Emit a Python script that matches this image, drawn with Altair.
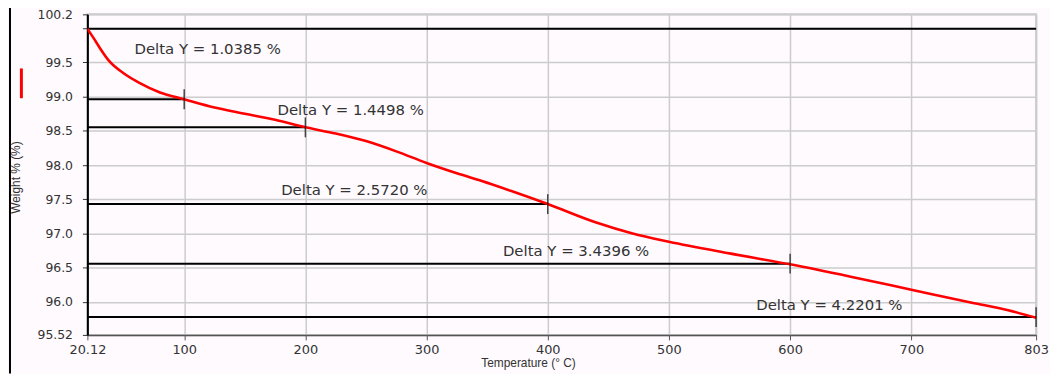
import altair as alt
import pandas as pd

# TGA curve (temperature °C, weight %)
temps = [20.12, 25, 30, 38, 50, 63, 80, 100, 125, 150, 175, 200, 225, 250, 275, 300,
         325, 345, 370, 400, 440, 470, 500, 550, 600, 650, 700, 750, 780, 803]
weights = [99.99, 99.86, 99.72, 99.52, 99.34, 99.20, 99.06, 98.96, 98.84, 98.75, 98.66, 98.55,
           98.46, 98.35, 98.20, 98.03, 97.88, 97.77, 97.62, 97.43, 97.16, 97.00, 96.88, 96.71,
           96.55, 96.37, 96.18, 95.99, 95.88, 95.77]

# Delta-Y markers
start_temp = 20.12
start_weight = 99.99
mark_temps = [100, 200, 400, 600, 803]
mark_weights = [98.96, 98.55, 97.43, 96.56, 95.78]

# Labels
label_texts = ["Delta Y = 1.0385 %", "Delta Y = 1.4498 %", "Delta Y = 2.5720 %",
               "Delta Y = 3.4396 %", "Delta Y = 4.2201 %"]
label_x = [59, 177, 180, 363, 572]
label_y = [99.69, 98.81, 97.63, 96.74, 95.95]

x_ticks = [20.12, 100, 200, 300, 400, 500, 600, 700, 803]
y_ticks = [95.52, 96.0, 96.5, 97.0, 97.5, 98.0, 98.5, 99.0, 99.5, 100.0, 100.2]

curve = pd.DataFrame({"t": temps, "w": weights, "series": ["Weight"] * len(temps)})
rules = pd.DataFrame({"x1": [start_temp] * (len(mark_temps) + 1),
                      "x2": [803] + mark_temps,
                      "y": [start_weight] + mark_weights})
ticks = pd.DataFrame({"t": mark_temps, "w": mark_weights})
labels = pd.DataFrame({"x": label_x, "y": label_y, "text": label_texts})

xs = alt.Scale(domain=[20.12, 803], nice=False, zero=False)
ys = alt.Scale(domain=[95.52, 100.2], nice=False, zero=False)

x_axis = alt.Axis(values=x_ticks, tickCount=30,
                  labelExpr="datum.value == 20.12 ? '20.12' : format(datum.value, 'd')",
                  title="Temperature (° C)", grid=True, gridColor="#cccccc", gridWidth=1.5,
                  domainColor="#555555", domainWidth=1.5, tickColor="#555555", tickSize=5,
                  labelFont="DejaVu Sans", labelFontSize=13, labelColor="#333333",
                  labelOverlap=False, labelFlush=False,
                  titleFont="Liberation Sans", titleFontSize=12, titleFontWeight="normal",
                  titleColor="#333333", titleX=444, titleY=23, titleBaseline="top",
                  labelPadding=4)
y_axis = alt.Axis(values=y_ticks, tickCount=30,
                  labelExpr="datum.value == 100.0 ? '' : (datum.value == 95.52 ? '95.52' : format(datum.value, '.1f'))",
                  title="Weight % (%)", grid=True, gridColor="#cccccc", gridWidth=1.5,
                  domainColor="#000000", domainWidth=2, tickColor="#333333", tickSize=5,
                  labelFont="DejaVu Sans", labelFontSize=12.5, labelColor="#333333",
                  labelOverlap=False, labelFlush=False,
                  titleFont="Liberation Sans", titleFontSize=12, titleFontWeight="normal",
                  titleColor="#333333", titleX=-65, titleY=164, labelPadding=10)

line = alt.Chart(curve).mark_line(strokeWidth=2.6, clip=True, interpolate="monotone").encode(
    x=alt.X("t:Q", scale=xs, axis=x_axis),
    y=alt.Y("w:Q", scale=ys, axis=y_axis),
    color=alt.Color("series:N", scale=alt.Scale(range=["#ff0000"]),
                    legend=alt.Legend(orient="none", legendX=-83, legendY=53, title=None,
                                      symbolType="M0,-1L0,1", symbolSize=900,
                                      symbolStrokeWidth=3, symbolStrokeColor="#ff0000",
                                      labelExpr="''", labelFontSize=1)),
)

hrules = alt.Chart(rules).mark_rule(color="#000000", strokeWidth=2).encode(
    x=alt.X("x1:Q", scale=xs), x2="x2:Q", y=alt.Y("y:Q", scale=ys))

vticks = alt.Chart(ticks).mark_tick(color="#000000", orient="vertical", size=20, thickness=1.5).encode(
    x=alt.X("t:Q", scale=xs), y=alt.Y("w:Q", scale=ys))

text = alt.Chart(labels).mark_text(align="left", baseline="middle", font="DejaVu Sans",
                                   fontSize=15, color="#333333").encode(
    x=alt.X("x:Q", scale=xs), y=alt.Y("y:Q", scale=ys), text="text:N")

# decorative left frame line of the original window
frame = alt.Chart(pd.DataFrame({"k": [0]})).mark_rule(color="#000000", strokeWidth=2, clip=False).encode(
    x=alt.value(-78), y=alt.value(-13), y2=alt.value(362))

chart = alt.layer(frame, hrules, line, vticks, text).properties(
    width=956, height=323,
    autosize=alt.AutoSizeParams(type="none"),
    padding={"left": 80, "top": 5, "right": 14, "bottom": 38},
    background="#fefafe",
).configure_view(stroke="#c8c8c8", strokeWidth=2)

chart.save("out.html", embed_options={"renderer": "svg", "actions": False})
